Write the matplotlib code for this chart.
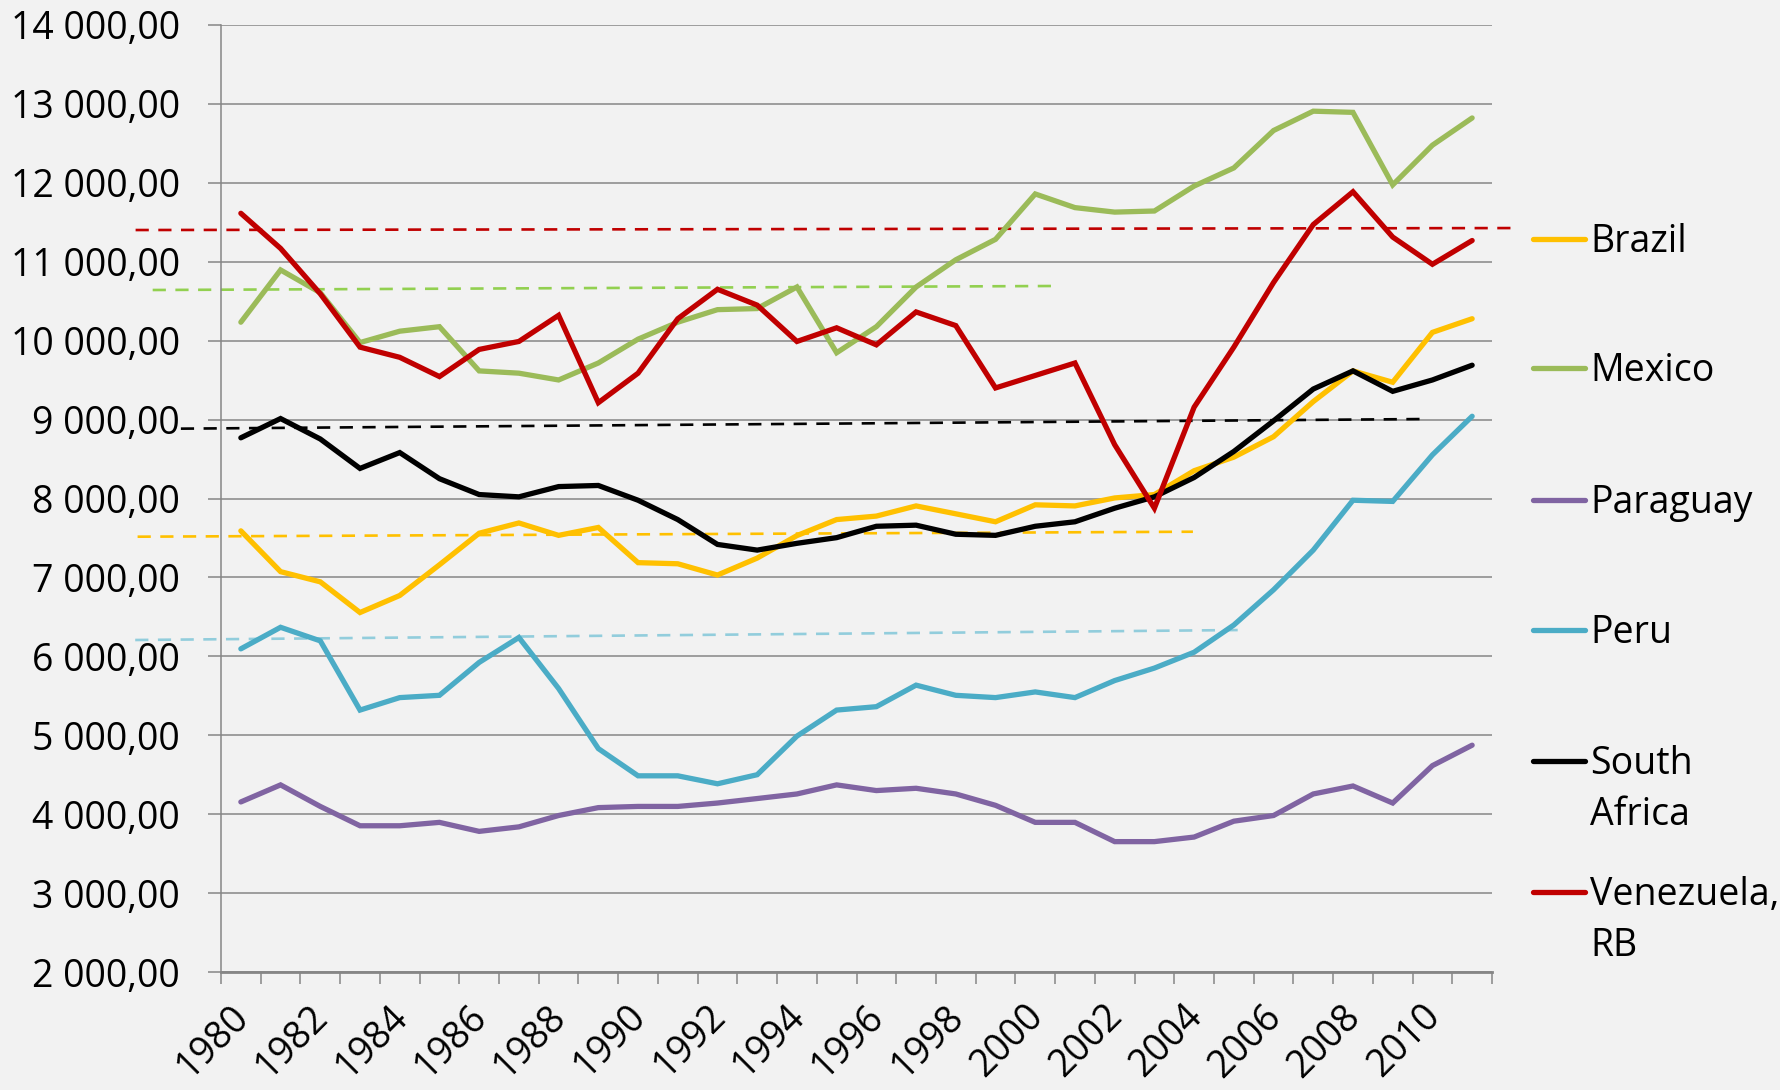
import numpy as np
import matplotlib
matplotlib.use("Agg")
import matplotlib.pyplot as plt
from matplotlib.lines import Line2D
from matplotlib.ticker import FuncFormatter, FixedLocator
import matplotlib.transforms as mtransforms

plt.rcParams['font.family'] = ['Open Sans', 'DejaVu Sans']

years = list(range(1980, 2012))

brazil = [7590, 7073, 6944, 6555, 6771, 7160, 7560, 7690, 7533, 7633,
          7187, 7173, 7030, 7245, 7530, 7733, 7777, 7906, 7806, 7705,
          7920, 7906, 8007, 8050, 8352, 8524, 8783, 9228, 9617, 9473,
          10105, 10278]
mexico = [10234, 10896, 10608, 9976, 10120, 10177, 9617, 9588, 9502, 9717,
          10019, 10234, 10393, 10407, 10680, 9847, 10177, 10680, 11025, 11284,
          11859, 11686, 11629, 11643, 11959, 12189, 12663, 12908, 12893, 11974,
          12477, 12822]
paraguay = [4155, 4371, 4098, 3853, 3853, 3896, 3782, 3839, 3983, 4083,
            4098, 4098, 4141, 4198, 4256, 4371, 4299, 4328, 4256, 4112,
            3896, 3896, 3652, 3652, 3710, 3911, 3983, 4256, 4357, 4141,
            4615, 4874]
peru = [6095, 6368, 6196, 5319, 5477, 5506, 5923, 6239, 5592, 4831,
        4486, 4486, 4385, 4500, 4989, 5319, 5362, 5635, 5506, 5477,
        5549, 5477, 5693, 5851, 6052, 6397, 6843, 7346, 7978, 7963,
        8553, 9042]
south_africa = [8769, 9013, 8754, 8381, 8582, 8251, 8050, 8021, 8151, 8165,
                7978, 7733, 7418, 7346, 7432, 7504, 7648, 7662, 7547, 7533,
                7648, 7705, 7877, 8021, 8266, 8596, 8984, 9387, 9617, 9358,
                9502, 9689]
venezuela = [11614, 11169, 10594, 9918, 9789, 9545, 9889, 9990, 10321, 9214,
             9588, 10278, 10651, 10450, 9990, 10163, 9947, 10364, 10191, 9401,
             9559, 9717, 8682, 7877, 9157, 9918, 10737, 11471, 11887, 11313,
             10968, 11269]

series_names = ["Brazil", "Mexico", "Paraguay", "Peru", "South\nAfrica", "Venezuela,\nRB"]
series_values = [brazil, mexico, paraguay, peru, south_africa, venezuela]
series_colors = ["#FFC000", "#9BBB59", "#8064A2", "#4BACC6", "#000000", "#C00000"]

# trend lines (start year, end year, start value, end value)
trend_x = [(1977.35, 2012.07), (1977.78, 2000.54), (1978.49, 2009.76),
           (1977.40, 2003.97), (1977.34, 2005.30)]
trend_y = [(11402, 11427), (10642, 10693), (8885, 9007),
           (7516, 7579), (6207, 6334)]
trend_colors = ["#C00000", "#92D050", "#000000", "#FFC000", "#92CDDC"]

W, H = 1781, 1090
fig = plt.figure(figsize=(W / 100, H / 100), dpi=100, facecolor="#F2F2F2")
ax = fig.add_axes([221 / W, 1 - 972 / H, (1492 - 221) / W, (972 - 25) / H])
ax.set_facecolor("#F2F2F2")

grid_c = "#868686"
ax.set_xlim(1979.5, 2011.5)
ax.set_ylim(2000, 14000)
ax.yaxis.set_major_locator(FixedLocator(list(range(2000, 14001, 1000))))
ax.yaxis.set_major_formatter(FuncFormatter(
    lambda v, p: f"{v:,.2f}".replace(",", " ").replace(".", ",")))
ax.grid(axis="y", color=grid_c, lw=1.1, zorder=0)
ax.set_axisbelow(True)

for s in ["top", "right"]:
    ax.spines[s].set_visible(False)
ax.spines["left"].set_color(grid_c)
ax.spines["left"].set_linewidth(1.1)
ax.spines["bottom"].set_color(grid_c)
ax.spines["bottom"].set_linewidth(2.0)

ax.tick_params(axis="y", direction="out", length=9.4, width=1.1, color=grid_c,
               labelsize=27, pad=20, labelcolor="black")
ax.set_xticks(list(range(1980, 2011, 2)))
ax.set_xticklabels([str(y) for y in range(1980, 2011, 2)])
ax.set_xticks([1979.5 + k for k in range(33)], minor=True)
ax.tick_params(axis="x", which="major", length=0, labelsize=27, pad=28)
ax.tick_params(axis="x", which="minor", direction="out", length=8.6, width=1.1,
               color=grid_c)
offset = mtransforms.ScaledTranslation(2 / 100, 0, fig.dpi_scale_trans)
for lab in ax.get_xticklabels():
    lab.set_rotation(45)
    lab.set_ha("right")
    lab.set_va("center")
    lab.set_rotation_mode("anchor")
    lab.set_transform(lab.get_transform() + offset)

for (x0, x1), (y0, y1), c in zip(trend_x, trend_y, trend_colors):
    ax.plot([x0, x1], [y0, y1], color=c, lw=1.9, ls=(0, (5, 3.6)),
            clip_on=False, zorder=2)

for vals, c in zip(series_values, series_colors):
    ax.plot(years, vals, color=c, lw=3.8, solid_capstyle="round",
            solid_joinstyle="miter", zorder=3)

# legend
leg_y = [238.5, 368, 500, 630, 761, 892]
line_sp = 51
for name, c, yy in zip(series_names, series_colors, leg_y):
    fy = 1 - yy / H
    fig.add_artist(Line2D([1533 / W, 1585 / W], [fy, fy], color=c, lw=3.8,
                          solid_capstyle="round", transform=fig.transFigure))
    for i, part in enumerate(name.split("\n")):
        by = 1 - (yy + 13 + i * line_sp) / H
        fig.text(1590 / W, by, part, fontsize=27, va="baseline", ha="left",
                 color="black")

fig.savefig("out.png", dpi=100, facecolor=fig.get_facecolor())
